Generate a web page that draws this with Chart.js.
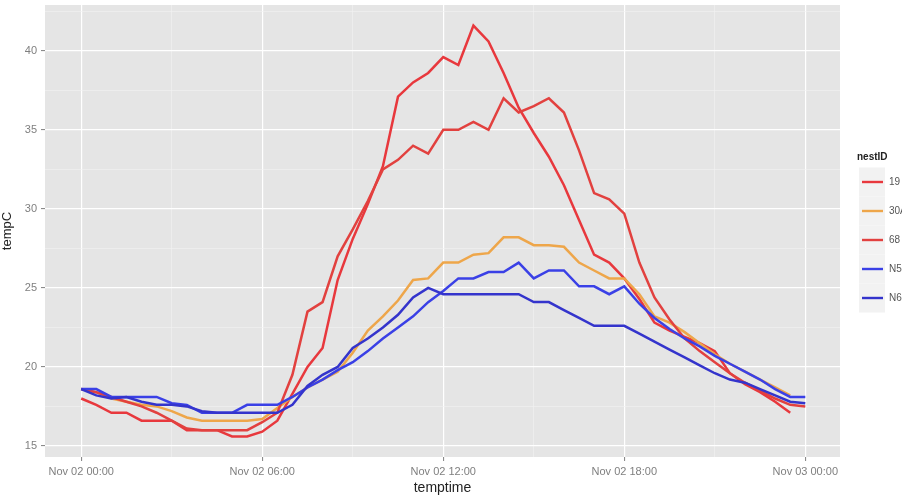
<!DOCTYPE html>
<html>
<head>
  <meta charset="UTF-8">
  <title>tempC by temptime</title>
  <script src="https://cdn.jsdelivr.net/npm/chart.js@4.4.1/dist/chart.umd.min.js"></script>
  <style>
    html, body { margin: 0; padding: 0; background: #fff; }
    #wrap { width: 902px; height: 499px; }
  </style>
</head>
<body>
  <div id="wrap"><canvas id="tempChart" width="902" height="499"></canvas></div>

  <script>
    // readings every half hour, hours since Nov 02 00:00
    const hours = [0, 0.5, 1, 1.5, 2, 2.5, 3, 3.5, 4, 4.5, 5, 5.5, 6, 6.5, 7, 7.5, 8, 8.5, 9, 9.5,
      10, 10.5, 11, 11.5, 12, 12.5, 13, 13.5, 14, 14.5, 15, 15.5, 16, 16.5, 17, 17.5, 18, 18.5, 19, 19.5,
      20, 20.5, 21, 21.5, 22, 22.5, 23, 23.5, 24];

    const nestIDs = ["19", "30A", "68", "N5", "N6"];
    const nestColors = ["#e8383d", "#eea64a", "#e2413f", "#3a40e6", "#3434cc"];

    const temp19 = [18.0, 17.6, 17.1, 17.1, 16.6, 16.6, 16.6, 16.0, 16.0, 16.0, 15.6, 15.6, 15.9, 16.6, 18.3, 20.0, 21.2, 25.5, 28.1, 30.3,
      32.7, 37.1, 38.0, 38.6, 39.6, 39.1, 41.6, 40.6, 38.6, 36.4, 34.8, 33.3, 31.5, 29.3, 27.1, 26.6, 25.6, 24.3, 22.8, 22.3,
      21.9, 21.5, 21.0, 19.6, 18.9, 18.4, 17.8, 17.1, null];
    const temp30A = [18.6, 18.4, 18.0, 17.8, 17.6, 17.5, 17.2, 16.8, 16.6, 16.6, 16.6, 16.6, 16.7, 17.4, 18.1, 18.7, 19.2, 19.7, 20.9, 22.3,
      23.2, 24.2, 25.5, 25.6, 26.6, 26.6, 27.1, 27.2, 28.2, 28.2, 27.7, 27.7, 27.6, 26.6, 26.1, 25.6, 25.6, 24.6, 23.2, 22.8,
      22.2, 21.5, 20.8, 20.2, 19.7, 19.2, 18.7, 18.2, null];
    const temp68 = [18.6, 18.4, 18.1, 17.8, 17.5, 17.1, 16.6, 16.1, 16.0, 16.0, 16.0, 16.0, 16.5, 17.1, 19.5, 23.5, 24.1, 27.0, 28.7, 30.5,
      32.5, 33.1, 34.0, 33.5, 35.0, 35.0, 35.5, 35.0, 37.0, 36.1, 36.5, 37.0, 36.1, 33.7, 31.0, 30.6, 29.7, 26.6, 24.4, 23.0,
      21.8, 21.0, 20.3, 19.6, 19.0, 18.5, 18.0, 17.6, 17.5];
    const tempN5 = [18.6, 18.6, 18.1, 18.1, 18.1, 18.1, 17.7, 17.6, 17.1, 17.1, 17.1, 17.6, 17.6, 17.6, 18.1, 18.7, 19.2, 19.8, 20.3, 21.0,
      21.8, 22.5, 23.2, 24.1, 24.8, 25.6, 25.6, 26.0, 26.0, 26.6, 25.6, 26.1, 26.1, 25.1, 25.1, 24.6, 25.1, 24.0, 23.1, 22.4,
      21.8, 21.3, 20.7, 20.2, 19.7, 19.2, 18.6, 18.1, 18.1];
    const tempN6 = [18.6, 18.2, 18.0, 18.1, 17.8, 17.6, 17.6, 17.5, 17.2, 17.1, 17.1, 17.1, 17.1, 17.1, 17.6, 18.8, 19.5, 20.0, 21.2, 21.8,
      22.5, 23.3, 24.4, 25.0, 24.6, 24.6, 24.6, 24.6, 24.6, 24.6, 24.1, 24.1, 23.6, 23.1, 22.6, 22.6, 22.6, 22.1, 21.6, 21.1,
      20.6, 20.1, 19.6, 19.2, 19.0, 18.6, 18.2, 17.8, 17.7];

    const xTickHours = [0, 6, 12, 18, 24];
    const xTickLabels = ["Nov 02 00:00", "Nov 02 06:00", "Nov 02 12:00", "Nov 02 18:00", "Nov 03 00:00"];
    const yTicks = [15, 20, 25, 30, 35, 40];

    const series = [temp19, temp30A, temp68, tempN5, tempN6];

    // grey ggplot panel behind the grid
    const panelBg = {
      id: "panelBg",
      beforeDraw(chart) {
        const { ctx, chartArea: a } = chart;
        ctx.save();
        ctx.fillStyle = "#fff";
        ctx.fillRect(0, 0, chart.width, chart.height);
        ctx.fillStyle = "#e5e5e5";
        ctx.fillRect(a.left, a.top, a.right - a.left, a.bottom - a.top);
        ctx.restore();
      }
    };

    // legend on the right, cut by the image edge like the original
    const nestLegend = {
      id: "nestLegend",
      afterDraw(chart) {
        const ctx = chart.ctx;
        ctx.save();
        ctx.font = "bold 10px 'Liberation Sans', Arial, sans-serif";
        ctx.fillStyle = "#222";
        ctx.textBaseline = "middle";
        ctx.fillText("nestID", 857, 157);
        chart.data.datasets.forEach((ds, i) => {
          const cy = 182 + i * 29;
          ctx.fillStyle = "#f2f2f2";
          ctx.fillRect(859, cy - 14.5, 26, 29);
          ctx.strokeStyle = ds.borderColor;
          ctx.lineWidth = 2.4;
          ctx.beginPath();
          ctx.moveTo(862, cy);
          ctx.lineTo(883, cy);
          ctx.stroke();
          ctx.fillStyle = "#555";
          ctx.font = "10px 'Liberation Sans', Arial, sans-serif";
          ctx.fillText(ds.label, 889, cy);
        });
        ctx.restore();
      }
    };

    const isMajorX = v => xTickHours.includes(v);
    const isMajorY = v => yTicks.includes(v);

    new Chart(document.getElementById("tempChart").getContext("2d"), {
      type: "line",
      data: {
        datasets: nestIDs.map((id, i) => ({
          label: id,
          data: hours.map((h, j) => ({ x: h, y: series[i][j] })),
          borderColor: nestColors[i],
          borderWidth: 2.5,
          pointRadius: 0,
          tension: 0,
          fill: false,
          order: nestIDs.length - i
        }))
      },
      options: {
        responsive: false,
        animation: false,
        devicePixelRatio: 1,
        layout: { padding: { left: 0, right: 62, top: 5, bottom: 0 } },
        plugins: {
          legend: { display: false },
          tooltip: { enabled: false }
        },
        scales: {
          x: {
            type: "linear",
            min: -1.2,
            max: 25.15,
            afterBuildTicks: s => { s.ticks = [0, 3, 6, 9, 12, 15, 18, 21, 24].map(v => ({ value: v })); },
            afterFit: s => { s.height = 42; s.paddingLeft = 0; s.paddingRight = 0; },
            border: { display: false },
            grid: {
              color: c => isMajorX(c.tick.value) ? "#ffffff" : "#f2f2f2",
              lineWidth: c => isMajorX(c.tick.value) ? 1.2 : 0.6,
              tickColor: c => isMajorX(c.tick.value) ? "#7f7f7f" : "rgba(0,0,0,0)",
              tickLength: 4,
              tickWidth: 1
            },
            ticks: {
              autoSkip: false,
              maxRotation: 0,
              padding: 4,
              color: "#7f7f7f",
              font: { family: "'Liberation Sans', Arial, sans-serif", size: 11 },
              callback: v => isMajorX(v) ? xTickLabels[xTickHours.indexOf(v)] : ""
            },
            title: {
              display: true,
              text: "temptime",
              color: "#222",
              padding: { top: 0, bottom: 2 },
              font: { family: "'Liberation Sans', Arial, sans-serif", size: 14 }
            }
          },
          y: {
            min: 14.3,
            max: 42.9,
            afterBuildTicks: s => { s.ticks = [15, 17.5, 20, 22.5, 25, 27.5, 30, 32.5, 35, 37.5, 40, 42.5].map(v => ({ value: v })); },
            afterFit: s => { s.width = 45; s.paddingTop = 0; s.paddingBottom = 0; },
            border: { display: false },
            grid: {
              color: c => isMajorY(c.tick.value) ? "#ffffff" : "#f2f2f2",
              lineWidth: c => isMajorY(c.tick.value) ? 1.2 : 0.6,
              tickColor: c => isMajorY(c.tick.value) ? "#7f7f7f" : "rgba(0,0,0,0)",
              tickLength: 4,
              tickWidth: 1
            },
            ticks: {
              autoSkip: false,
              padding: 4,
              color: "#7f7f7f",
              font: { family: "'Liberation Sans', Arial, sans-serif", size: 11 },
              callback: v => isMajorY(v) ? String(v) : ""
            },
            title: {
              display: true,
              text: "tempC",
              color: "#222",
              padding: { top: 0, bottom: 4 },
              font: { family: "'Liberation Sans', Arial, sans-serif", size: 13 }
            }
          }
        }
      },
      plugins: [panelBg, nestLegend]
    });
  </script>
</body>
</html>
